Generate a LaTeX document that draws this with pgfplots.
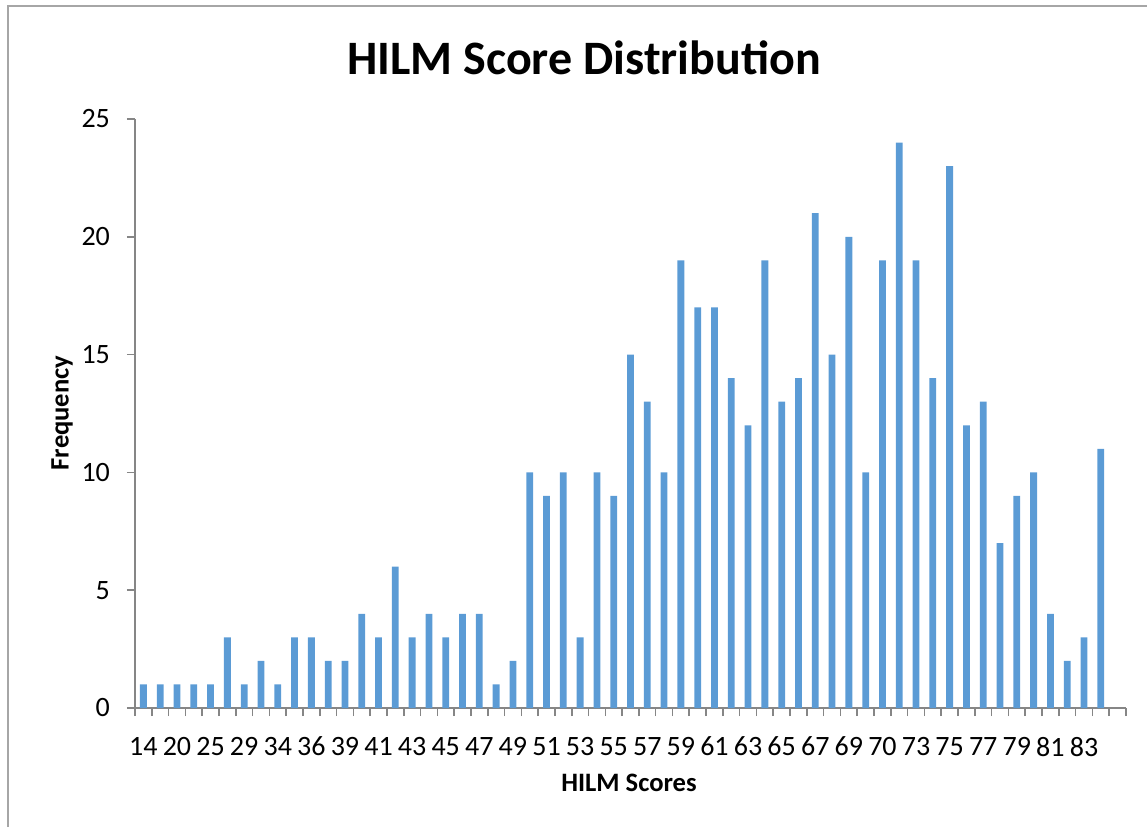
\documentclass[border=0pt]{standalone}
\usepackage{pgfplots}
\pgfplotsset{compat=1.18}
\usepackage{fontspec}
\setmainfont{Carlito}
\definecolor{barblue}{HTML}{5B9BD5}
\definecolor{axisgray}{HTML}{868686}
\definecolor{framegray}{HTML}{A6A6A6}
\begin{document}
\begin{tikzpicture}
\useasboundingbox (0,0) rectangle (573.5pt,413.5pt);
\draw[framegray, line width=0.8pt] (4pt,0) -- (4pt,410.5pt) -- (573.5pt,410.5pt);
\node[font=\fontsize{24}{28}\selectfont\bfseries] at (292pt,384.5pt) {HILM Score Distribution};
\node[font=\fontsize{13.3}{16}\selectfont\bfseries, rotate=90] at (31pt,207pt) {Frequency};
\node[font=\fontsize{13.3}{16}\selectfont\bfseries] at (314.5pt,22pt) {HILM Scores};
\begin{axis}[
  at={(67.5pt,59.5pt)}, anchor=south west,
  scale only axis, width=495.5pt, height=294.5pt,
  xmin=0.5, xmax=59.5, ymin=0, ymax=25,
  axis lines=left, axis line style={-, draw=axisgray, line width=0.8pt},
  tick align=outside, major tick length=4pt,
  tick style={draw=axisgray, line width=0.8pt},
  xtick={0.5,1.5,...,59.5},
  xticklabels={14,,20,,25,,29,,34,,36,,39,,41,,43,,45,,47,,49,,51,,53,,55,,57,,59,,61,,63,,65,,67,,69,,70,,73,,75,,77,,79,,81,,83,,},
  xticklabel style={xshift=4.2pt, yshift=-7pt},
  yticklabel style={xshift=-5pt},
  ytick={0,5,...,25},
  /pgf/number format/assume math mode=true,
  ticklabel style={font=\fontsize{14}{16}\selectfont},
  ybar, bar width=3.4pt,
  clip=false,
]
\addplot[fill=barblue, draw=none] coordinates {
(1,1)(2,1)(3,1)(4,1)(5,1)(6,3)(7,1)(8,2)(9,1)(10,3)
(11,3)(12,2)(13,2)(14,4)(15,3)(16,6)(17,3)(18,4)(19,3)(20,4)
(21,4)(22,1)(23,2)(24,10)(25,9)(26,10)(27,3)(28,10)(29,9)(30,15)
(31,13)(32,10)(33,19)(34,17)(35,17)(36,14)(37,12)(38,19)(39,13)(40,14)
(41,21)(42,15)(43,20)(44,10)(45,19)(46,24)(47,19)(48,14)(49,23)(50,12)
(51,13)(52,7)(53,9)(54,10)(55,4)(56,2)(57,3)(58,11)
};
\end{axis}
\end{tikzpicture}
\end{document}
